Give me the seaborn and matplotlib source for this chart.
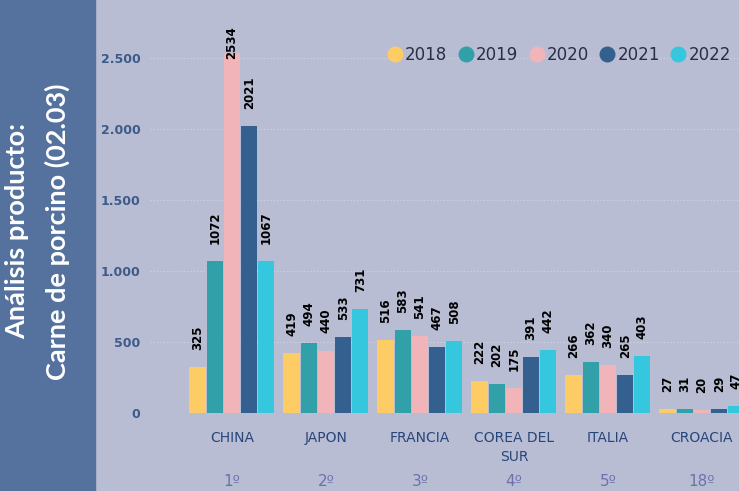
import pandas as pd
import matplotlib.pyplot as plt
from matplotlib.lines import Line2D
from matplotlib.patches import Rectangle
import seaborn as sns

# Datos (miles de toneladas aprox.) - Carne de porcino (02.03)
paises = ["CHINA", "JAPON", "FRANCIA", "COREA DEL\nSUR", "ITALIA", "CROACIA"]
rankings = ["1º", "2º", "3º", "4º", "5º", "18º"]
anios = ["2018", "2019", "2020", "2021", "2022"]
v2018 = [325, 419, 516, 222, 266, 27]
v2019 = [1072, 494, 583, 202, 362, 31]
v2020 = [2534, 440, 541, 175, 340, 20]
v2021 = [2021, 533, 467, 391, 265, 29]
v2022 = [1067, 731, 508, 442, 403, 47]
colores = ["#FDCC64", "#31A0A8", "#F1B5B9", "#33608F", "#35C7DD"]

BG = "#B8BDD4"
PANEL = "#55729E"

sns.set_theme(style="white")

df = pd.DataFrame({
    "pais": paises * 5,
    "anio": [a for a in anios for _ in paises],
    "valor": v2018 + v2019 + v2020 + v2021 + v2022,
})

fig = plt.figure(figsize=(7.39, 4.91), dpi=100)
fig.patch.set_facecolor(BG)
fig.patches.append(Rectangle((0, 0), 95 / 739, 1, transform=fig.transFigure,
                             color=PANEL, zorder=0))

ax = fig.add_axes([150 / 739, 78 / 491, (739 - 150) / 739, 413 / 491])
ax.set_facecolor(BG)
sns.barplot(data=df, x="pais", y="valor", hue="anio", palette=colores,
            order=paises, hue_order=anios, width=0.915, gap=0.06,
            saturation=1, errorbar=None, linewidth=0, legend=False, ax=ax)

ax.set_xlim(-0.872, 5.394)
ax.set_ylim(0, 2908)
for s in ax.spines.values():
    s.set_visible(False)

# Etiquetas de valor verticales (Power BI las baja si no caben arriba)
for cont, anio in zip(ax.containers, anios):
    for bar in cont:
        h = bar.get_height()
        ax.text(bar.get_x() + bar.get_width() / 2, min(h + 120, 2490),
                f"{int(h)}", rotation=90, ha="center", va="bottom",
                fontsize=8.5, fontweight="bold", color="black", clip_on=False)

yt = [0, 500, 1000, 1500, 2000, 2500]
ax.set_yticks(yt)
ax.set_yticklabels([f"{v:,}".replace(",", ".") for v in yt],
                   fontsize=9, fontweight="bold", color="#3D5A88")
ax.grid(axis="y", linestyle=(0, (1, 2)), color="#D2D5E5", linewidth=0.8)
ax.grid(axis="x", visible=False)
ax.set_axisbelow(True)
ax.tick_params(axis="y", length=0, pad=7)
ax.tick_params(axis="x", length=0, pad=13)
ax.set_xticks(range(len(paises)))
ax.set_xticklabels(paises, fontsize=10, color="#28457A", linespacing=1.45)
ax.set_xlabel("")
ax.set_ylabel("")

# Posición en el ranking
for i, r in enumerate(rankings):
    ax.annotate(r, xy=(i, 0), xycoords=("data", "axes fraction"),
                xytext=(0, -49), textcoords="offset points",
                ha="center", va="center", fontsize=11, color="#6B72AA",
                annotation_clip=False)

handles = [Line2D([0], [0], marker="o", linestyle="", markersize=11.5,
                  markerfacecolor=c, markeredgewidth=0) for c in colores]
fig.legend(handles, anios, loc="center left", bbox_to_anchor=(388 / 739, 1 - 55 / 491),
           ncol=5, frameon=False, handlelength=0.8, handletextpad=0.2,
           columnspacing=0.72, borderpad=0, borderaxespad=0, fontsize=12,
           labelcolor="#2B2D42")

fig.text(17.5 / 739, 1 - 231 / 491, "Análisis producto:", rotation=90,
         ha="center", va="center", color="white", fontsize=19.5,
         fontweight="bold", family="Lato")
fig.text(57 / 739, 1 - 232 / 491, "Carne de porcino (02.03)", rotation=90,
         ha="center", va="center", color="white", fontsize=19.5,
         fontweight="bold", family="Lato")

fig.savefig("out.png", dpi=100)
